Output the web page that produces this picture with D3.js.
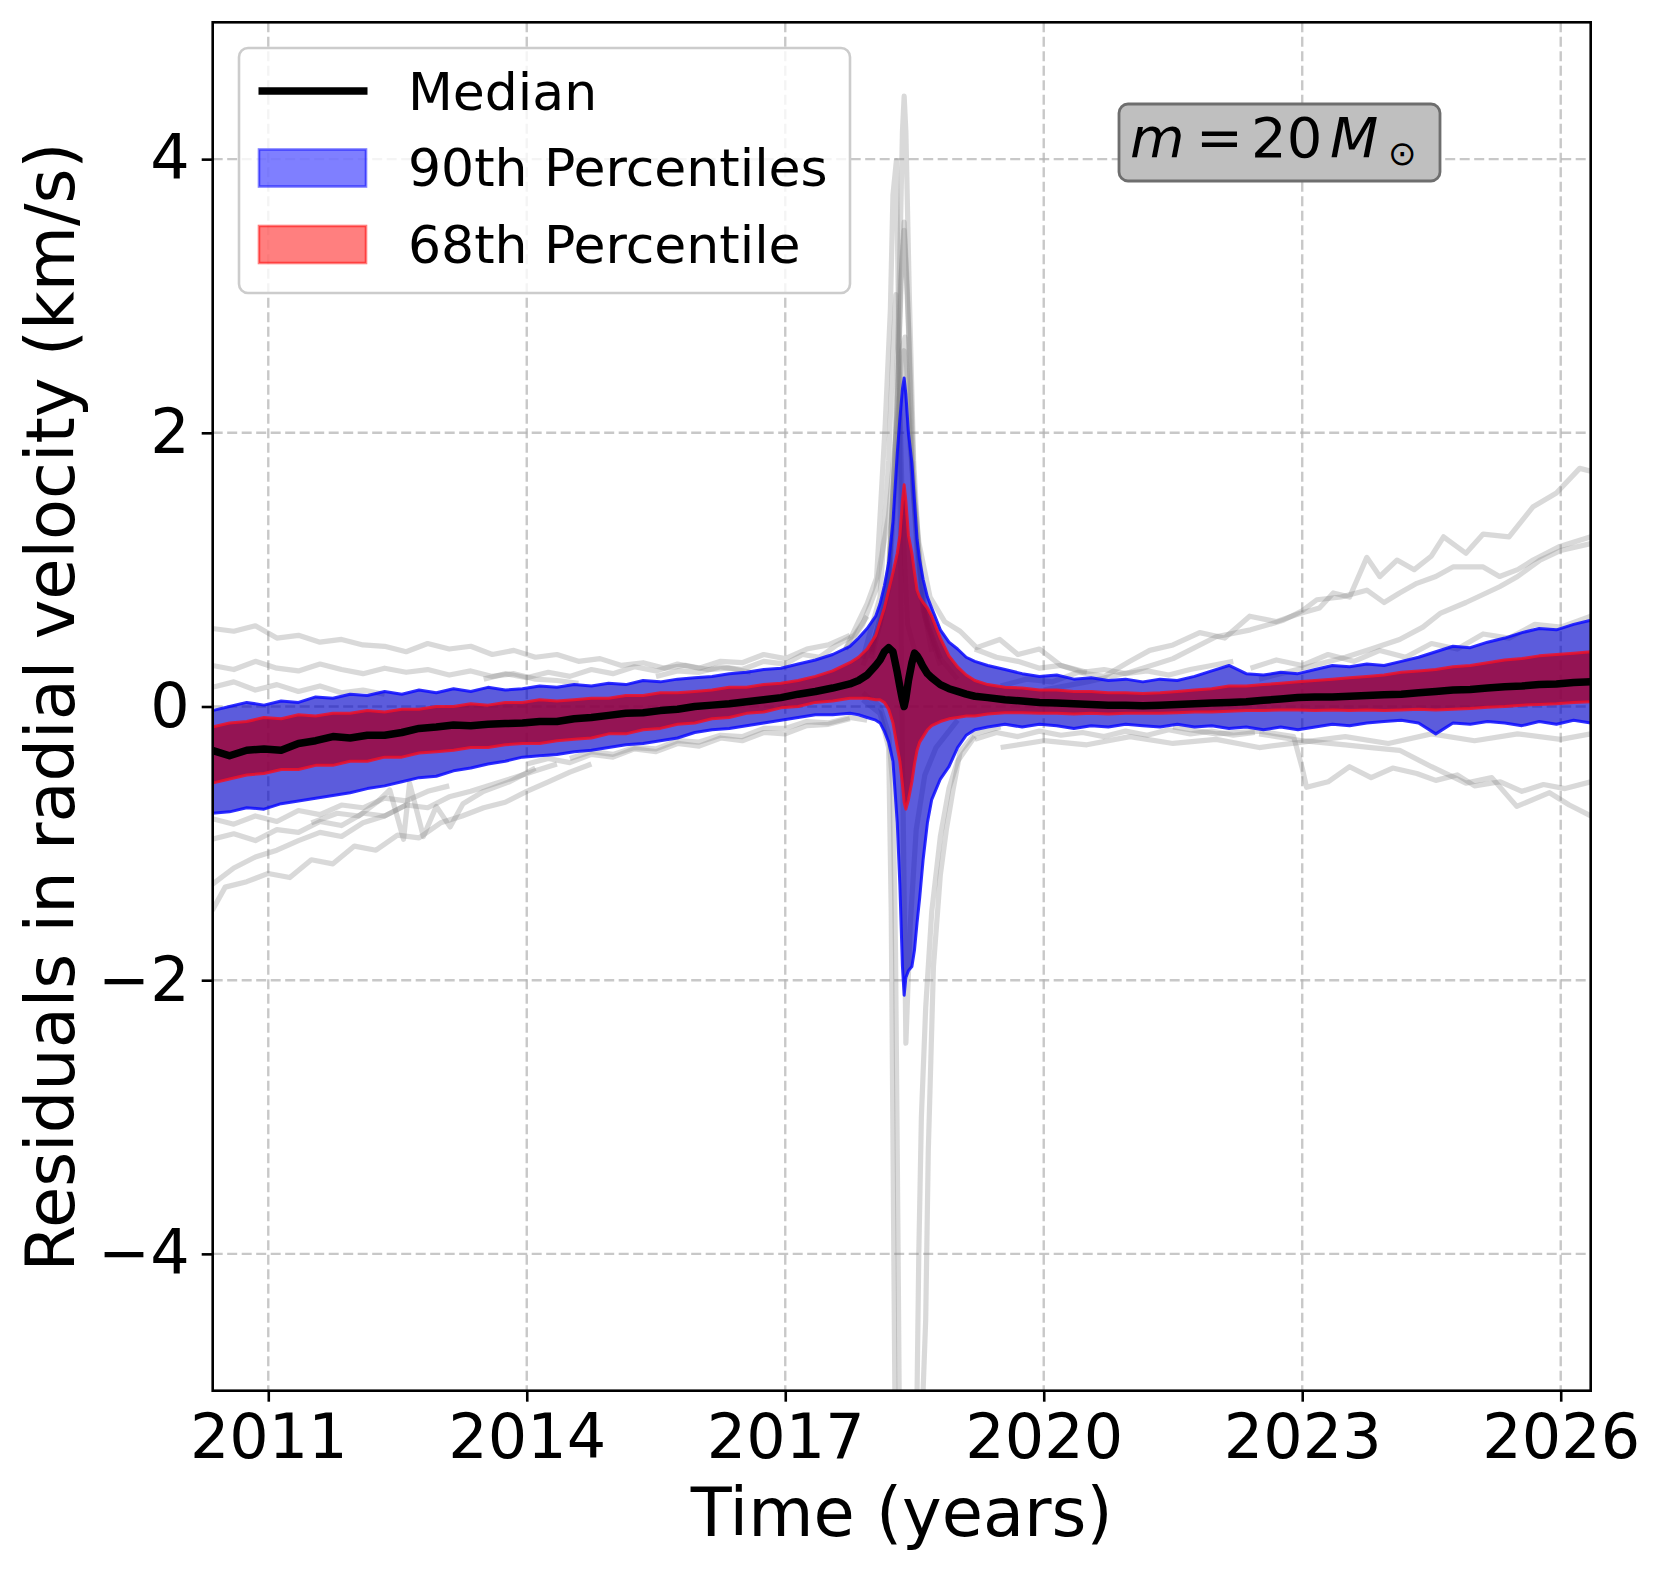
<!DOCTYPE html>
<html>
<head>
<meta charset="utf-8">
<script src="https://cdn.jsdelivr.net/npm/d3@7"></script>
<style>
  body { margin: 0; background: #fff; }
  text { font-family: "DejaVu Sans", sans-serif; }
</style>
</head>
<body>
<svg id="chart" width="1661" height="1573"></svg>
<script>
// ---- data ----
const xTicks = [2011, 2014, 2017, 2020, 2023, 2026];
const yTicks = [-4, -2, 0, 2, 4];

// time grid of the percentile bands (left part, peak, right part)
const T = [
  2010.35, 2010.55, 2010.75, 2010.95, 2011.15, 2011.35, 2011.55, 2011.75, 2011.95, 2012.15,
  2012.35, 2012.55, 2012.75, 2012.95, 2013.15, 2013.35, 2013.55, 2013.75, 2013.95, 2014.15,
  2014.35, 2014.55, 2014.75, 2014.95, 2015.15, 2015.35, 2015.55, 2015.75, 2015.95, 2016.15,
  2016.35, 2016.55, 2016.75, 2016.95, 2017.15, 2017.35, 2017.55, 2017.75,
  2017.85, 2017.95, 2018.05, 2018.10, 2018.15, 2018.20, 2018.25, 2018.30, 2018.33, 2018.36,
  2018.38, 2018.40, 2018.43, 2018.47, 2018.50, 2018.53, 2018.56, 2018.60, 2018.65, 2018.70,
  2018.80, 2018.90, 2019.00, 2019.10, 2019.20,
  2019.35, 2019.55, 2019.75, 2019.95, 2020.15, 2020.35, 2020.55, 2020.75, 2020.95, 2021.15,
  2021.35, 2021.55, 2021.75, 2021.95, 2022.15, 2022.35, 2022.55, 2022.75, 2022.95, 2023.15,
  2023.35, 2023.55, 2023.75, 2023.95, 2024.15, 2024.35, 2024.55, 2024.75, 2024.95, 2025.15,
  2025.35, 2025.55, 2025.75, 2025.95, 2026.15, 2026.35
];

const hi90 = [
  -0.03, 0.00, 0.03, 0.01, 0.04, 0.03, 0.07, 0.06, 0.09, 0.08, 0.11, 0.09, 0.12, 0.10, 0.13, 0.11, 0.14, 0.12, 0.13, 0.15,
  0.14, 0.16, 0.15, 0.17, 0.16, 0.19, 0.18, 0.20, 0.21, 0.22, 0.24, 0.25, 0.27, 0.28, 0.31, 0.34, 0.38, 0.44,
  0.50, 0.57, 0.66, 0.75, 0.88, 1.05, 1.35, 1.85, 2.10, 2.32, 2.40, 2.28, 2.00, 1.78, 1.50, 1.22, 1.07, 0.93, 0.80, 0.72,
  0.56, 0.47, 0.42, 0.36, 0.33,
  0.30, 0.27, 0.24, 0.22, 0.23, 0.20, 0.21, 0.19, 0.20, 0.18, 0.20, 0.19, 0.22, 0.26, 0.30, 0.24, 0.23, 0.25, 0.24, 0.27,
  0.30, 0.29, 0.31, 0.30, 0.33, 0.36, 0.40, 0.44, 0.43, 0.47, 0.50, 0.54, 0.57, 0.56, 0.60, 0.63
];
const hi68 = [
  -0.15, -0.12, -0.11, -0.08, -0.09, -0.06, -0.07, -0.05, -0.05, -0.03, -0.04, -0.02, -0.02, 0.00, 0.00, 0.02, 0.01, 0.03, 0.03, 0.05,
  0.04, 0.05, 0.06, 0.06, 0.08, 0.08, 0.10, 0.10, 0.11, 0.12, 0.14, 0.14, 0.16, 0.17, 0.19, 0.22, 0.26, 0.32,
  0.36, 0.42, 0.52, 0.62, 0.72, 0.85, 0.98, 1.12, 1.25, 1.50, 1.62, 1.50, 1.25, 1.12, 0.98, 0.85, 0.80, 0.76, 0.72, 0.66,
  0.50, 0.37, 0.29, 0.23, 0.19,
  0.16, 0.14, 0.135, 0.12, 0.12, 0.11, 0.11, 0.10, 0.10, 0.095, 0.10, 0.11, 0.12, 0.13, 0.15, 0.15, 0.16, 0.17, 0.18, 0.19,
  0.20, 0.21, 0.22, 0.23, 0.25, 0.26, 0.27, 0.29, 0.30, 0.32, 0.34, 0.35, 0.37, 0.38, 0.39, 0.40
];
const median = [
  -0.32, -0.36, -0.32, -0.31, -0.32, -0.27, -0.25, -0.22, -0.23, -0.21, -0.21, -0.19, -0.16, -0.15, -0.135, -0.14, -0.13, -0.125, -0.12, -0.11,
  -0.11, -0.09, -0.08, -0.065, -0.05, -0.045, -0.03, -0.02, 0.00, 0.01, 0.02, 0.035, 0.05, 0.065, 0.09, 0.11, 0.135, 0.165,
  0.19, 0.23, 0.30, 0.34, 0.40, 0.43, 0.40, 0.25, 0.145, 0.05, 0.00, 0.06, 0.19, 0.32, 0.39, 0.37, 0.34, 0.29, 0.24, 0.21,
  0.16, 0.13, 0.11, 0.09, 0.075,
  0.065, 0.05, 0.04, 0.03, 0.025, 0.02, 0.015, 0.01, 0.01, 0.005, 0.01, 0.015, 0.02, 0.025, 0.03, 0.035, 0.045, 0.055, 0.065, 0.07,
  0.07, 0.075, 0.08, 0.085, 0.09, 0.10, 0.11, 0.12, 0.125, 0.135, 0.145, 0.15, 0.16, 0.165, 0.175, 0.18
];
const lo68 = [
  -0.56, -0.53, -0.50, -0.49, -0.46, -0.46, -0.43, -0.43, -0.40, -0.40, -0.37, -0.37, -0.34, -0.33, -0.32, -0.30, -0.30, -0.28, -0.27, -0.27,
  -0.25, -0.24, -0.23, -0.20, -0.20, -0.17, -0.16, -0.13, -0.12, -0.09, -0.08, -0.05, -0.04, -0.01, 0.00, 0.03, 0.04, 0.06,
  0.06, 0.06, 0.05, 0.05, 0.03, -0.02, -0.12, -0.30, -0.40, -0.57, -0.70, -0.75, -0.68, -0.55, -0.42, -0.32, -0.26, -0.22, -0.17, -0.14,
  -0.11, -0.09, -0.08, -0.07, -0.07,
  -0.055, -0.045, -0.045, -0.05, -0.05, -0.055, -0.05, -0.055, -0.05, -0.05, -0.05, -0.045, -0.04, -0.04, -0.035, -0.03, -0.03, -0.025, -0.025, -0.03,
  -0.025, -0.03, -0.025, -0.03, -0.025, -0.02, -0.025, -0.02, -0.015, -0.005, 0.00, 0.01, 0.015, 0.02, 0.03, 0.035
];
const lo90 = [
  -0.78, -0.77, -0.74, -0.75, -0.71, -0.69, -0.67, -0.65, -0.63, -0.60, -0.58, -0.55, -0.52, -0.51, -0.47, -0.45, -0.42, -0.40, -0.37, -0.36,
  -0.35, -0.33, -0.32, -0.30, -0.28, -0.27, -0.25, -0.23, -0.19, -0.17, -0.16, -0.14, -0.12, -0.10, -0.08, -0.06, -0.06, -0.05,
  -0.06, -0.08, -0.10, -0.12, -0.18, -0.26, -0.40, -0.85, -1.30, -1.90, -2.11, -1.98, -1.93, -1.90, -1.78, -1.58, -1.40, -1.12, -0.85, -0.68,
  -0.53, -0.44, -0.30, -0.21, -0.17,
  -0.15, -0.13, -0.15, -0.13, -0.14, -0.16, -0.14, -0.15, -0.13, -0.14, -0.15, -0.13, -0.15, -0.14, -0.16, -0.15, -0.17, -0.15, -0.17, -0.15,
  -0.13, -0.14, -0.12, -0.11, -0.10, -0.12, -0.20, -0.12, -0.13, -0.11, -0.12, -0.14, -0.11, -0.13, -0.10, -0.12
];

// individual realisations that stand out of the bands (grey lines)
const g01t = [2010.35, 2010.6, 2010.85, 2011.1, 2011.35, 2011.6, 2011.85, 2012.1, 2012.35, 2012.6, 2012.85, 2013.1, 2013.35, 2013.6, 2013.85, 2014.1, 2014.35, 2014.6, 2014.85, 2015.1, 2015.35, 2015.6, 2015.85, 2016.1, 2016.35, 2016.6];
const g01v = [0.57, 0.55, 0.59, 0.50, 0.52, 0.47, 0.49, 0.45, 0.44, 0.40, 0.46, 0.42, 0.44, 0.38, 0.41, 0.36, 0.38, 0.33, 0.35, 0.30, 0.32, 0.28, 0.30, 0.27, 0.28, 0.25];
const g02t = [2010.35, 2010.6, 2010.85, 2011.1, 2011.35, 2011.6, 2011.85, 2012.1, 2012.35, 2012.6, 2012.85, 2013.1, 2013.35, 2013.6, 2013.85, 2014.1, 2014.35, 2014.6];
const g02v = [0.30, 0.27, 0.33, 0.28, 0.26, 0.31, 0.27, 0.24, 0.28, 0.25, 0.27, 0.23, 0.26, 0.22, 0.24, 0.20, 0.19, 0.17];
const g03t = [2010.35, 2010.6, 2010.85, 2011.1, 2011.35, 2011.6, 2011.85, 2012.1, 2012.35];
const g03v = [0.14, 0.18, 0.12, 0.16, 0.11, 0.15, 0.10, 0.12, 0.09];
const g04t = [2010.35, 2010.6, 2010.85, 2011.1, 2011.35, 2011.6, 2011.85, 2012.1, 2012.35, 2012.6, 2012.85, 2013.1];
const g04v = [-0.82, -0.86, -0.80, -0.84, -0.76, -0.79, -0.72, -0.74, -0.67, -0.69, -0.62, -0.58];
const g05t = [2010.35, 2010.6, 2010.85, 2011.1, 2011.35, 2011.6, 2011.85, 2012.1, 2012.35, 2012.6, 2012.85, 2013.1, 2013.35, 2013.6, 2013.85, 2014.1, 2014.35];
const g05v = [-0.97, -0.93, -0.98, -0.90, -0.92, -0.84, -0.87, -0.78, -0.80, -0.72, -0.74, -0.66, -0.62, -0.57, -0.52, -0.47, -0.42];
const g06t = [2010.35, 2010.5, 2010.75, 2011.0, 2011.25, 2011.5, 2011.75, 2012.0, 2012.25, 2012.5, 2012.75, 2013.0, 2013.25, 2013.5, 2013.75, 2014.0, 2014.25, 2014.5, 2014.75];
const g06v = [-1.49, -1.32, -1.28, -1.22, -1.25, -1.12, -1.15, -1.02, -1.05, -0.94, -0.96, -0.85, -0.80, -0.74, -0.70, -0.62, -0.55, -0.48, -0.42];
const g07t = [2010.35, 2010.6, 2010.85, 2011.1, 2011.35, 2011.6, 2011.85, 2012.1, 2012.35, 2012.6];
const g07v = [-1.30, -1.18, -1.10, -1.05, -0.98, -0.92, -0.95, -0.85, -0.80, -0.72];
const g08t = [2011.5, 2011.8, 2012.05, 2012.26, 2012.41, 2012.57, 2012.64, 2012.80, 2012.95, 2013.11, 2013.26, 2013.5, 2013.8, 2014.1];
const g08v = [-0.85, -0.78, -0.80, -0.70, -0.61, -0.97, -0.56, -0.95, -0.73, -0.88, -0.71, -0.62, -0.55, -0.45];
const g09t = [2013.5, 2013.75, 2014.0, 2014.25, 2014.5, 2014.75, 2015.0, 2015.25, 2015.5, 2015.75, 2016.0, 2016.25, 2016.5, 2016.75, 2017.0, 2017.25, 2017.5, 2017.75];
const g09v = [0.20, 0.24, 0.21, 0.25, 0.22, 0.27, 0.24, 0.29, 0.26, 0.31, 0.28, 0.33, 0.32, 0.38, 0.35, 0.42, 0.45, 0.52];
const g10t = [2014.0, 2014.25, 2014.5, 2014.75, 2015.0, 2015.25, 2015.5, 2015.75, 2016.0, 2016.25, 2016.5, 2016.75, 2017.0, 2017.25, 2017.5, 2017.75];
const g10v = [-0.42, -0.38, -0.41, -0.35, -0.37, -0.31, -0.33, -0.27, -0.29, -0.23, -0.25, -0.19, -0.20, -0.14, -0.13, -0.09];
const g11t = [2015.5, 2015.75, 2016.0, 2016.25, 2016.5, 2016.75, 2017.0, 2017.2, 2017.4, 2017.6, 2017.8, 2017.95];
const g11v = [0.22, 0.26, 0.25, 0.29, 0.27, 0.33, 0.31, 0.38, 0.36, 0.45, 0.52, 0.66];
const g12t = [2014.5, 2014.75, 2015.0, 2015.25, 2015.5, 2015.75, 2016.0, 2016.25, 2016.5, 2016.75, 2017.0, 2017.25, 2017.5, 2017.75, 2017.95];
const g12v = [-0.38, -0.33, -0.35, -0.30, -0.31, -0.25, -0.26, -0.21, -0.22, -0.16, -0.16, -0.11, -0.12, -0.08, -0.10];

const u01t = [2017.9, 2018.1, 2018.2, 2018.27, 2018.32, 2018.36, 2018.38, 2018.40, 2018.44, 2018.49, 2018.56, 2018.65, 2018.8, 2019.0];
const u01v = [0.30, 0.60, 1.00, 1.80, 3.00, 4.20, 4.46, 4.20, 3.00, 1.80, 1.00, 0.60, 0.35, 0.20];
const u02t = [2017.7, 2017.85, 2017.95, 2018.06, 2018.16, 2018.22, 2018.25, 2018.29, 2018.32, 2018.35, 2018.40, 2018.45, 2018.52, 2018.62, 2018.75, 2019.0];
const u02v = [0.42, 0.62, 0.75, 0.94, 2.06, 2.90, 3.74, 3.99, 2.60, 0.20, -2.46, -1.60, -0.90, -0.50, -0.30, -0.10];
const u03t = [2018.0, 2018.2, 2018.3, 2018.35, 2018.38, 2018.42, 2018.48, 2018.6, 2018.8];
const u03v = [0.40, 0.90, 2.20, 3.20, 3.54, 3.00, 1.60, 0.70, 0.35];
const u04t = [2018.0, 2018.2, 2018.29, 2018.34, 2018.38, 2018.43, 2018.5, 2018.62, 2018.8];
const u04v = [0.38, 0.95, 2.00, 3.10, 3.48, 2.80, 1.50, 0.65, 0.30];
const u05t = [2017.9, 2018.1, 2018.2, 2018.25, 2018.285, 2018.32, 2018.36, 2018.42, 2018.55, 2018.75];
const u05v = [0.35, 0.80, 1.80, 2.60, 3.01, 2.50, 1.40, 0.60, 0.30, 0.20];
const u06t = [2018.0, 2018.2, 2018.3, 2018.35, 2018.39, 2018.45, 2018.55, 2018.7];
const u06v = [0.35, 0.85, 1.90, 2.60, 2.70, 2.00, 0.90, 0.40];
const w01t = [2017.7, 2017.9, 2018.05, 2018.2, 2018.3, 2018.38, 2018.45, 2018.55, 2018.68, 2018.85, 2019.03, 2019.22, 2019.49, 2019.7, 2019.95, 2020.2, 2020.5];
const w01v = [0.42, 0.60, 0.85, 1.40, 2.10, 2.60, 1.90, 1.20, 0.80, 0.62, 0.55, 0.43, 0.49, 0.38, 0.42, 0.30, 0.25];
const d01t = [2017.9, 2018.1, 2018.2, 2018.25, 2018.28, 2018.31, 2018.34, 2018.45, 2018.55, 2018.6, 2018.63, 2018.66, 2018.69, 2018.72, 2018.8, 2018.87, 2018.95, 2019.03, 2019.2, 2019.5];
const d01v = [0.10, 0.00, -0.20, -0.60, -1.80, -4.00, -6.50, -8.00, -6.00, -5.00, -4.48, -3.25, -2.58, -1.90, -1.23, -0.90, -0.60, -0.33, -0.20, -0.15];
const d02t = [2017.9, 2018.1, 2018.2, 2018.23, 2018.26, 2018.29, 2018.45, 2018.52, 2018.55, 2018.58, 2018.63, 2018.7, 2018.8, 2018.9, 2019.0, 2019.2];
const d02v = [0.05, -0.05, -0.30, -1.50, -4.00, -6.50, -8.00, -5.50, -4.00, -3.00, -2.20, -1.50, -0.95, -0.60, -0.40, -0.22];

const r01t = [2019.5, 2019.8, 2020.1, 2020.4, 2020.7, 2021.0, 2021.23, 2021.5, 2021.81, 2022.1, 2022.39, 2022.7, 2022.97, 2023.2, 2023.36, 2023.55, 2023.75, 2023.9, 2024.1, 2024.3, 2024.5, 2024.64, 2024.9, 2025.1, 2025.4, 2025.68, 2025.95, 2026.22, 2026.35];
const r01v = [0.15, 0.20, 0.18, 0.25, 0.22, 0.33, 0.41, 0.45, 0.54, 0.50, 0.66, 0.62, 0.68, 0.72, 0.83, 0.80, 1.09, 0.95, 1.07, 1.00, 1.10, 1.24, 1.12, 1.26, 1.24, 1.46, 1.56, 1.74, 1.72];
const r02t = [2020.0, 2020.5, 2021.0, 2021.5, 2022.0, 2022.4, 2022.78, 2023.0, 2023.17, 2023.45, 2023.75, 2023.95, 2024.13, 2024.33, 2024.55, 2024.75, 2025.1, 2025.29, 2025.5, 2025.68, 2025.99, 2026.35];
const r02v = [0.12, 0.18, 0.25, 0.35, 0.51, 0.56, 0.63, 0.70, 0.78, 0.80, 0.85, 0.76, 0.83, 0.90, 0.95, 1.02, 1.02, 0.95, 1.00, 1.07, 1.17, 1.24];
const r03t = [2022.5, 2023.0, 2023.5, 2023.8, 2024.13, 2024.4, 2024.6, 2024.9, 2025.29, 2025.5, 2025.76, 2026.0, 2026.35];
const r03v = [0.20, 0.28, 0.36, 0.42, 0.49, 0.58, 0.68, 0.76, 0.875, 0.95, 1.07, 1.14, 1.19];
const r04t = [2022.4, 2022.7, 2023.0, 2023.3, 2023.6, 2023.9, 2024.2, 2024.5, 2024.8, 2025.1, 2025.4, 2025.7, 2026.0, 2026.35];
const r04v = [0.28, 0.34, 0.30, 0.38, 0.33, 0.41, 0.36, 0.46, 0.42, 0.53, 0.50, 0.60, 0.58, 0.66];
const r05t = [2021.5, 2022.0, 2022.5, 2022.9, 2023.0, 2023.05, 2023.3, 2023.55, 2023.8, 2024.05, 2024.33, 2024.55, 2024.8, 2025.0, 2025.3, 2025.55, 2025.8, 2026.05, 2026.35];
const r05v = [-0.15, -0.20, -0.18, -0.22, -0.45, -0.59, -0.55, -0.44, -0.52, -0.45, -0.49, -0.54, -0.50, -0.58, -0.55, -0.62, -0.57, -0.60, -0.55];
const r06t = [2022.5, 2023.0, 2023.5, 2023.8, 2024.13, 2024.5, 2024.9, 2025.2, 2025.49, 2025.87, 2026.1, 2026.35];
const r06v = [-0.20, -0.25, -0.28, -0.30, -0.32, -0.44, -0.56, -0.52, -0.73, -0.63, -0.72, -0.80];
const r07t = [2019.5, 2020.0, 2020.5, 2021.0, 2021.5, 2022.0, 2022.5, 2023.0, 2023.5, 2024.0, 2024.5, 2025.0, 2025.5, 2026.0, 2026.35];
const r07v = [-0.30, -0.25, -0.28, -0.22, -0.27, -0.24, -0.30, -0.26, -0.22, -0.27, -0.20, -0.25, -0.20, -0.24, -0.20];
const r08t = [2019.2, 2019.45, 2019.7, 2019.95, 2020.2, 2020.45, 2020.7, 2020.95, 2021.2, 2021.45, 2021.7, 2021.95, 2022.2];
const r08v = [0.42, 0.36, 0.33, 0.28, 0.30, 0.25, 0.27, 0.24, 0.26, 0.23, 0.27, 0.30, 0.33];
const r09t = [2019.2, 2019.45, 2019.7, 2019.95, 2020.2, 2020.45, 2020.7, 2020.95, 2021.2, 2021.45, 2021.7, 2021.95, 2022.2, 2022.45];
const r09v = [-0.24, -0.19, -0.22, -0.18, -0.21, -0.19, -0.22, -0.18, -0.21, -0.17, -0.20, -0.18, -0.21, -0.19];

const grayTraces = [
  [g01t, g01v], [g02t, g02v], [g03t, g03v], [g04t, g04v], [g05t, g05v], [g06t, g06v], [g07t, g07v],
  [g08t, g08v], [g09t, g09v], [g10t, g10v], [g11t, g11v], [g12t, g12v],
  [u01t, u01v], [u02t, u02v], [u03t, u03v], [u04t, u04v], [u05t, u05v], [u06t, u06v], [w01t, w01v],
  [d01t, d01v], [d02t, d02v],
  [r01t, r01v], [r02t, r02v], [r03t, r03v], [r04t, r04v], [r05t, r05v], [r06t, r06v], [r07t, r07v],
  [r08t, r08v], [r09t, r09v]
];

// ---- drawing ----
const svg = d3.select("#chart");
svg.selectAll("*").remove();

const plot = { left: 212.7, right: 1590.7, top: 22.3, bottom: 1390.7 };

const x = d3.scaleLinear().domain([2010.355, 2026.348]).range([plot.left, plot.right]);
const y = d3.scaleLinear().domain([-5, 5]).range([plot.bottom, plot.top]);

svg.append("rect").attr("width", 1661).attr("height", 1573).attr("fill", "#fff");

svg.append("clipPath").attr("id", "plotclip")
    .append("rect")
    .attr("x", plot.left).attr("y", plot.top)
    .attr("width", plot.right - plot.left).attr("height", plot.bottom - plot.top);

// Grid
const grid = svg.append("g")
    .attr("stroke", "#b0b0b0").attr("stroke-opacity", 0.7)
    .attr("stroke-width", 2.4).attr("stroke-dasharray", "10,4.5");
grid.selectAll(".vg").data(xTicks).enter().append("line")
    .attr("x1", d => x(d)).attr("x2", d => x(d))
    .attr("y1", plot.top).attr("y2", plot.bottom);
grid.selectAll(".hg").data(yTicks).enter().append("line")
    .attr("y1", d => y(d)).attr("y2", d => y(d))
    .attr("x1", plot.left).attr("x2", plot.right);

const g = svg.append("g").attr("clip-path", "url(#plotclip)");

// Grey realisations
const traceLine = d3.line().x(d => x(d[0])).y(d => y(d[1]));
g.selectAll(".trace")
    .data(grayTraces.map(tr => d3.zip(tr[0], tr[1])))
    .enter()
    .append("path")
    .attr("class", "trace")
    .attr("d", traceLine)
    .attr("fill", "none")
    .attr("stroke", "#808080")
    .attr("stroke-opacity", 0.3)
    .attr("stroke-width", 5.2)
    .attr("stroke-linejoin", "round");

const idx = d3.range(T.length);
const area = (lo, hi) => d3.area().x(i => x(T[i])).y0(i => y(lo[i])).y1(i => y(hi[i]));
const edge = (vals) => d3.line().x(i => x(T[i])).y(i => y(vals[i]));

// dense cloud of realisations under the bands
g.append("path").datum(idx).attr("d", area(lo90, hi90)).attr("fill", "#000").attr("fill-opacity", 0.28);
g.append("path").datum(idx).attr("d", area(lo68, hi68)).attr("fill", "#000").attr("fill-opacity", 0.55);

// 90th percentile band
g.append("path").datum(idx).attr("d", area(lo90, hi90))
    .attr("fill", "#0000ff").attr("fill-opacity", 0.5);
[lo90, hi90].forEach(v => {
    g.append("path").datum(idx).attr("d", edge(v))
        .attr("fill", "none").attr("stroke", "#0a0aff").attr("stroke-opacity", 0.85)
        .attr("stroke-width", 3).attr("stroke-linejoin", "round");
});

// 68th percentile band
g.append("path").datum(idx).attr("d", area(lo68, hi68))
    .attr("fill", "#ff0000").attr("fill-opacity", 0.5);
[lo68, hi68].forEach(v => {
    g.append("path").datum(idx).attr("d", edge(v))
        .attr("fill", "none").attr("stroke", "#ee1028").attr("stroke-opacity", 0.85)
        .attr("stroke-width", 3).attr("stroke-linejoin", "round");
});

// Median
g.append("path").datum(idx).attr("d", edge(median))
    .attr("fill", "none").attr("stroke", "#000")
    .attr("stroke-width", 7.5).attr("stroke-linejoin", "round");

// Axes
const xAxis = svg.append("g")
    .attr("transform", `translate(0,${plot.bottom})`)
    .call(d3.axisBottom(x).tickValues(xTicks).tickSize(11).tickPadding(12).tickFormat(d3.format("d")));
const yAxis = svg.append("g")
    .attr("transform", `translate(${plot.left},0)`)
    .call(d3.axisLeft(y).tickValues(yTicks).tickSize(11).tickPadding(12)
        .tickFormat(d => d < 0 ? "\u2212" + Math.abs(d) : String(d)));
[xAxis, yAxis].forEach(a => {
    a.select(".domain").remove();
    a.selectAll(".tick line").attr("stroke", "#000").attr("stroke-width", 2.6);
    a.selectAll(".tick text").attr("font-size", 62).attr("font-family", "DejaVu Sans").attr("fill", "#000");
});

// Spines
svg.append("rect")
    .attr("x", plot.left).attr("y", plot.top)
    .attr("width", plot.right - plot.left).attr("height", plot.bottom - plot.top)
    .attr("fill", "none").attr("stroke", "#000").attr("stroke-width", 2.6);

// Axis labels
svg.append("text")
    .attr("x", (plot.left + plot.right) / 2)
    .attr("y", 1536)
    .attr("text-anchor", "middle")
    .attr("font-size", 67)
    .text("Time (years)");

svg.append("text")
    .attr("transform", "rotate(-90)")
    .attr("x", -707)
    .attr("y", 74)
    .attr("text-anchor", "middle")
    .attr("font-size", 67)
    .text("Residuals in radial velocity (km/s)");

// Legend
const legend = svg.append("g");
legend.append("rect")
    .attr("x", 239).attr("y", 48).attr("width", 611).attr("height", 245)
    .attr("rx", 9).attr("fill", "#fff").attr("fill-opacity", 0.8)
    .attr("stroke", "#cccccc").attr("stroke-width", 2.6);
legend.append("line")
    .attr("x1", 258.5).attr("x2", 367.5).attr("y1", 91).attr("y2", 91)
    .attr("stroke", "#000").attr("stroke-width", 7.5);
legend.append("rect")
    .attr("x", 259).attr("y", 149.5).attr("width", 107).attr("height", 37)
    .attr("fill", "#0000ff").attr("fill-opacity", 0.5)
    .attr("stroke", "#0000ff").attr("stroke-opacity", 0.5).attr("stroke-width", 2.6);
legend.append("rect")
    .attr("x", 259).attr("y", 226).attr("width", 107).attr("height", 37)
    .attr("fill", "#ff0000").attr("fill-opacity", 0.5)
    .attr("stroke", "#ff0000").attr("stroke-opacity", 0.5).attr("stroke-width", 2.6);
const legendLabels = ["Median", "90th Percentiles", "68th Percentile"];
legend.selectAll(".ltext").data(legendLabels).enter().append("text")
    .attr("x", 408)
    .attr("y", (d, i) => 109.5 + i * 76.7)
    .attr("font-size", 52)
    .text(d => d);

// Mass annotation
const note = svg.append("g");
note.append("rect")
    .attr("x", 1119).attr("y", 104).attr("width", 321).attr("height", 77)
    .attr("rx", 9).attr("fill", "#bfbfbf")
    .attr("stroke", "#6e6e6e").attr("stroke-width", 2.8);
const nt = note.append("text").attr("y", 157).attr("font-size", 56);
nt.append("tspan").attr("x", 1130).attr("font-style", "italic").text("m");
nt.append("tspan").attr("x", 1196).text("=");
nt.append("tspan").attr("x", 1251).text("20");
nt.append("tspan").attr("x", 1330).attr("font-style", "italic").text("M");
nt.append("tspan").attr("x", 1388).attr("dy", 8).attr("font-size", 34).text("\u2299");
</script>
</body>
</html>
